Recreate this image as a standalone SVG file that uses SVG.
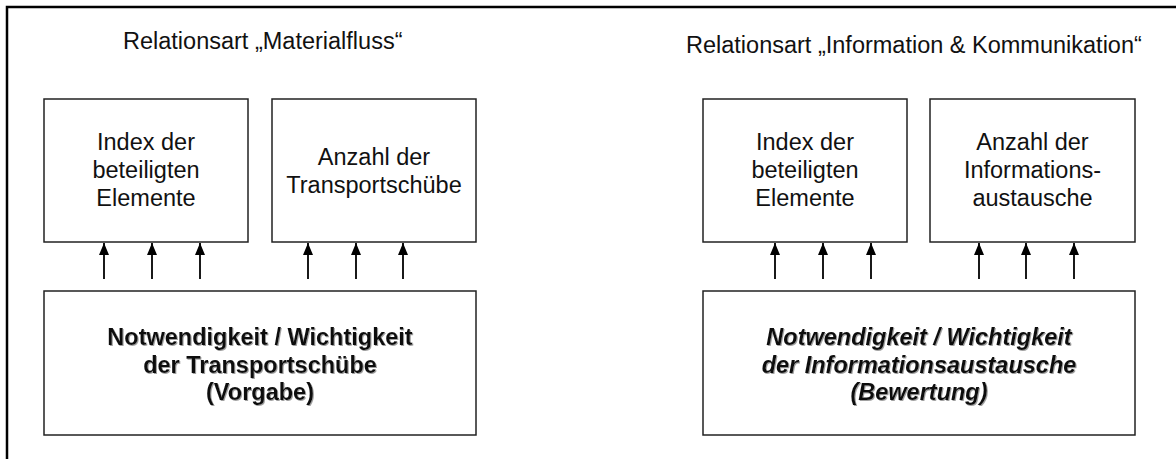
<svg xmlns="http://www.w3.org/2000/svg" width="1176" height="459" viewBox="0 0 1176 459">
  <defs>
    <!-- arrowhead drawn along +x; reversed at line start so it points up -->
    <marker id="arrowhead" viewBox="0 0 12 10" refX="12" refY="5" markerWidth="12" markerHeight="10" markerUnits="userSpaceOnUse" orient="auto-start-reverse">
      <path d="M0,0 L12,5 L0,10 Z" fill="#000"/>
    </marker>
    <!-- soft shadow behind the emphasised labels -->
    <filter id="textShadow" x="-5%" y="-20%" width="110%" height="140%">
      <feDropShadow dx="1" dy="1" stdDeviation="0.6" flood-color="#888" flood-opacity="0.8"/>
    </filter>
    <style>
      .frame { fill: none; stroke: #000; stroke-width: 2.5; }
      .box { fill: #fff; stroke: #222; stroke-width: 1.5; }
      .title { font-family: "Liberation Sans", Arial, sans-serif; font-size: 23.5px; fill: #111; }
      .label { font-family: "Liberation Sans", Arial, sans-serif; font-size: 23.5px; fill: #111; text-anchor: middle; }
      .strong { font-family: "Liberation Sans", Arial, sans-serif; font-size: 23.5px; font-weight: bold; fill: #111; text-anchor: middle; filter: url(#textShadow); }
      .strong.it { font-style: italic; }
      .conn line { stroke: #000; stroke-width: 1.8; marker-start: url(#arrowhead); }
    </style>
  </defs>

  <rect width="1176" height="459" fill="#fff"/>
  <!-- outer frame: only left and top edges -->
  <path class="frame" d="M7,459 V7 H1176"/>

  <!-- section headings -->
  <text class="title" x="123" y="49">Relationsart „Materialfluss“</text>
  <text class="title" x="686" y="53">Relationsart „Information &amp; Kommunikation“</text>

  <!-- material flow -->
  <g id="mf-index">
    <rect class="box" x="44" y="99" width="204" height="143"/>
    <text class="label" x="146" y="150">Index der</text>
    <text class="label" x="146" y="178">beteiligten</text>
    <text class="label" x="146" y="206">Elemente</text>
  </g>
  <g id="mf-count">
    <rect class="box" x="272" y="99" width="204" height="143"/>
    <text class="label" x="374" y="165">Anzahl der</text>
    <text class="label" x="374" y="193">Transportschübe</text>
  </g>
  <g id="mf-weight">
    <rect class="box" x="44" y="291" width="432" height="144"/>
    <text class="strong" x="260" y="345">Notwendigkeit / Wichtigkeit</text>
    <text class="strong" x="260" y="373">der Transportschübe</text>
    <text class="strong" x="260" y="400">(Vorgabe)</text>
  </g>

  <!-- information & communication -->
  <g id="ik-index">
    <rect class="box" x="703" y="99" width="204" height="143"/>
    <text class="label" x="805" y="150">Index der</text>
    <text class="label" x="805" y="178">beteiligten</text>
    <text class="label" x="805" y="206">Elemente</text>
  </g>
  <g id="ik-count">
    <rect class="box" x="930" y="99" width="205" height="143"/>
    <text class="label" x="1032.5" y="150">Anzahl der</text>
    <text class="label" x="1032.5" y="178">Informations-</text>
    <text class="label" x="1032.5" y="206">austausche</text>
  </g>
  <g id="ik-weight">
    <rect class="box" x="703" y="291" width="432" height="144"/>
    <text class="strong it" x="919" y="345">Notwendigkeit / Wichtigkeit</text>
    <text class="strong it" x="919" y="373">der Informationsaustausche</text>
    <text class="strong it" x="919" y="400">(Bewertung)</text>
  </g>

  <!-- connectors: upward arrows from weighting boxes -->
  <g id="connectors" class="conn">
    <line x1="104" y1="243" x2="104" y2="279"/>
    <line x1="152" y1="243" x2="152" y2="279"/>
    <line x1="200" y1="243" x2="200" y2="279"/>
    <line x1="308" y1="243" x2="308" y2="279"/>
    <line x1="356" y1="243" x2="356" y2="279"/>
    <line x1="403" y1="243" x2="403" y2="279"/>
    <line x1="775" y1="243" x2="775" y2="279"/>
    <line x1="823" y1="243" x2="823" y2="279"/>
    <line x1="871" y1="243" x2="871" y2="279"/>
    <line x1="979" y1="243" x2="979" y2="279"/>
    <line x1="1026" y1="243" x2="1026" y2="279"/>
    <line x1="1074" y1="243" x2="1074" y2="279"/>
  </g>
</svg>
